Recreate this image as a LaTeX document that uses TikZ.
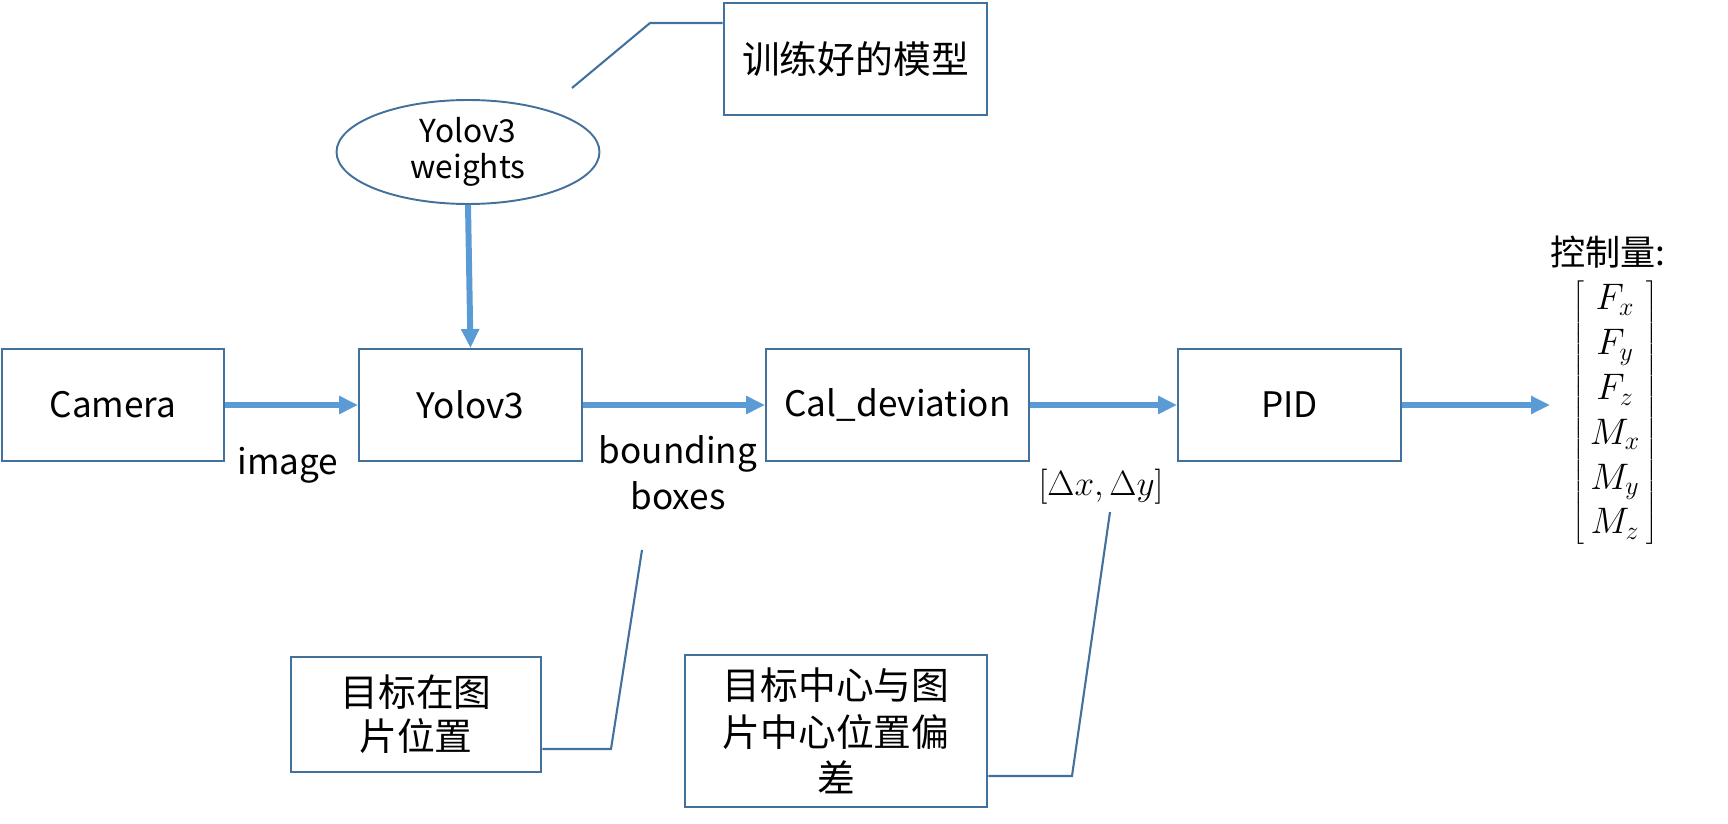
\documentclass[tikz,border=0pt]{standalone}
\usepackage{fix-cm}
\usepackage{fontspec}
\setmainfont{Noto Sans CJK SC}
\usetikzlibrary{arrows.meta, shapes.geometric}
\definecolor{boxblue}{RGB}{65,113,156}
\definecolor{flowblue}{RGB}{91,155,213}
\tikzset{
    block/.style={draw=boxblue, line width=1.1pt, minimum height=2.24cm, inner sep=0pt, font=\fontsize{20}{26}\selectfont},
    note/.style={draw=boxblue, line width=1.6pt, align=center, inner sep=0pt},
    flow/.style={flowblue, line width=3.4pt, -{Triangle[length=10.8pt,width=9.8pt]}},
    callout/.style={boxblue, line width=1.2pt},
    lbl/.style={align=center, font=\fontsize{20}{26}\selectfont}
}
\begin{document}
\begin{tikzpicture}[x=0.02cm, y=-0.02cm]
        % Fix the page size
        \useasboundingbox (0,0) rectangle (1728,824);
        % Draw main chain
        \node[block, minimum width=4.44cm] (cam) at (113,405) {Camera};
        \node[block, minimum width=4.46cm] (yolo) at (470.5,405) {Yolov3};
        \node[block, minimum width=5.26cm] (cal) at (897.5,405) {Cal\_deviation};
        \node[block, minimum width=4.46cm] (pid) at (1289.5,405) {PID};
        \node[ellipse, draw=boxblue, line width=1.1pt, minimum width=5.26cm, minimum height=2.08cm, inner sep=0pt, align=center, font=\fontsize{18}{20.5}\selectfont] (wts) at (468,152) {Yolov3\\weights};
        \coordinate (out) at (1550,405);
        % Arrows
        \draw[flow] (wts.south) -- (yolo.north);
        \draw[flow] (cam.east) -- (yolo.west);
        \draw[flow] (yolo.east) -- (cal.west);
        \draw[flow] (cal.east) -- (pid.west);
        \draw[flow] (pid.east) -- (out);
        % Signal labels
        \node[lbl] (imglbl) at (288,465) {image};
        \node[lbl] (bblbl) at (678,473) {bounding\\boxes};
        \node[font=\fontsize{20}{24}\selectfont] (dlbl) at (1101,487) {$[\Delta x,\Delta y]$};
        \node[lbl] (ctrl) at (1608,252) {控制量:};
        \node[font=\fontsize{21}{25.5}\selectfont, inner sep=0pt] (vec) at (1615,413)
            {$\left[\begin{array}{@{\,}c@{\,}}F_x\\F_y\\F_z\\M_x\\M_y\\M_z\end{array}\right]$};
        % Notes with callout lines
        \node[note, minimum width=5.26cm, minimum height=2.24cm, font=\fontsize{21.5}{26}\selectfont] (model) at (855.5,59) {训练好的模型};
        \node[note, minimum width=5cm, minimum height=2.3cm, font=\fontsize{21.5}{25}\selectfont] (loc) at (416,714.5) {目标在图\\片位置};
        \node[note, minimum width=6.04cm, minimum height=3.04cm, font=\fontsize{21.5}{26.6}\selectfont] (dev) at (836,731) {目标中心与图\\片中心位置偏\\差};
        \coordinate (m1) at (650,23);
        \coordinate (m2) at (572,88);
        \coordinate (l1) at (611,749);
        \coordinate (l2) at (642,550);
        \coordinate (d1) at (1072,776);
        \coordinate (d2) at (1110,512);
        \draw[callout] (model.west |- m1) -- (m1) -- (m2);
        \draw[callout] (loc.east |- l1) -- (l1) -- (l2);
        \draw[callout] (dev.east |- d1) -- (d1) -- (d2);
    \end{tikzpicture}
\end{document}
